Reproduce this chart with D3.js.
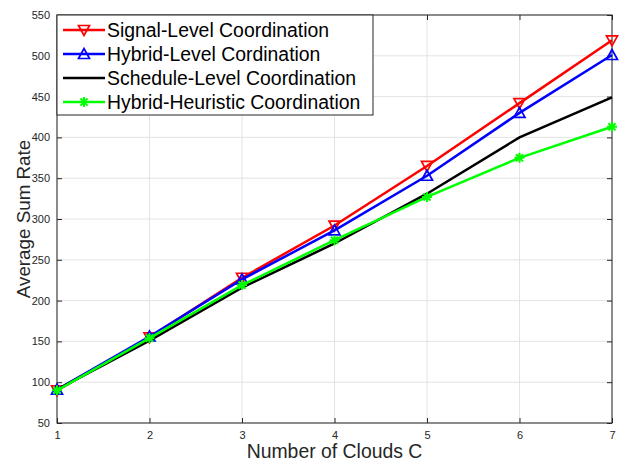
<!DOCTYPE html>
<html>
<head>
<meta charset="utf-8">
<script src="https://d3js.org/d3.v7.min.js"></script>
<style>
  body { margin: 0; background: #fff; }
  svg { display: block; font-family: "Liberation Sans", Arial, Helvetica, sans-serif; }
</style>
</head>
<body>
<svg id="svg"></svg>
<script>
var clouds = [1, 2, 3, 4, 5, 6, 7];
var signalLevel = [90, 155, 228, 292, 365, 442, 519];
var hybridLevel = [91, 156, 226, 286, 353, 430, 501];
var scheduleLevel = [91, 151, 216, 270, 331, 400, 449];
var hybridHeuristic = [90, 154, 219, 274, 327, 375, 413];
var yTicks = [50, 100, 150, 200, 250, 300, 350, 400, 450, 500, 550];
var seriesNames = ['Signal-Level Coordination', 'Hybrid-Level Cordination',
  'Schedule-Level Coordination', 'Hybrid-Heuristic Coordination'];

var series = [
  { name: seriesNames[0], values: signalLevel, color: '#ff0000', marker: 'down' },
  { name: seriesNames[1], values: hybridLevel, color: '#0000ff', marker: 'up' },
  { name: seriesNames[2], values: scheduleLevel, color: '#000000', marker: 'none' },
  { name: seriesNames[3], values: hybridHeuristic, color: '#00ff00', marker: 'star' }
];

/* 基本參數 */
var W = 629, H = 462;
var margin = { top: 15, right: 17, bottom: 39, left: 57 };
var width = W - margin.left - margin.right,
  height = H - margin.top - margin.bottom;

var axisColor = '#262626';

//比例尺
var scaleX = d3.scaleLinear().domain([1, 7]).range([0, width]);
var scaleY = d3.scaleLinear().domain([50, 550]).range([height, 0]);

var s = d3.select('#svg').attr('width', W).attr('height', H);
var g = s.append('g').attr('transform', 'translate(' + margin.left + ',' + margin.top + ')');

//網格
g.append('g').selectAll('line').data(clouds).enter().append('line')
  .attr('x1', function (d) { return scaleX(d); })
  .attr('x2', function (d) { return scaleX(d); })
  .attr('y1', 0).attr('y2', height)
  .attr('stroke', '#e3e3e3').attr('stroke-width', 1);
g.append('g').selectAll('line').data(yTicks).enter().append('line')
  .attr('y1', function (d) { return scaleY(d); })
  .attr('y2', function (d) { return scaleY(d); })
  .attr('x1', 0).attr('x2', width)
  .attr('stroke', '#e3e3e3').attr('stroke-width', 1);

//座標軸 (ticks inward, MATLAB style)
function styleAxis(sel) {
  sel.select('.domain').remove();
  sel.selectAll('.tick line').attr('stroke', axisColor);
  sel.selectAll('.tick text').attr('fill', axisColor).style('font-size', '11px');
}
g.append('g').attr('transform', 'translate(0,' + height + ')')
  .call(d3.axisBottom(scaleX).tickValues(clouds).tickFormat(d3.format('d')).tickSizeInner(-5).tickPadding(8))
  .call(styleAxis);
g.append('g')
  .call(d3.axisTop(scaleX).tickValues(clouds).tickSizeInner(-5).tickFormat(''))
  .call(styleAxis);
g.append('g')
  .call(d3.axisLeft(scaleY).tickValues(yTicks).tickSizeInner(-5).tickPadding(7))
  .call(styleAxis);
g.append('g').attr('transform', 'translate(' + width + ',0)')
  .call(d3.axisRight(scaleY).tickValues(yTicks).tickSizeInner(-5).tickFormat(''))
  .call(styleAxis);

g.append('rect')
  .attr('x', 0).attr('y', 0).attr('width', width).attr('height', height)
  .attr('fill', 'none').attr('stroke', axisColor).attr('stroke-width', 1);

//marker
function drawMarker(sel, type, color) {
  if (type === 'down') {
    sel.append('path').attr('d', 'M-5.5,-4.5L5.5,-4.5L0,5.5Z')
      .attr('fill', 'none').attr('stroke', color).attr('stroke-width', 1.7);
  } else if (type === 'up') {
    sel.append('path').attr('d', 'M-5.5,4.5L5.5,4.5L0,-5.5Z')
      .attr('fill', 'none').attr('stroke', color).attr('stroke-width', 1.7);
  } else if (type === 'star') {
    sel.append('path').attr('d', 'M-5,0L5,0M0,-5L0,5M-3.6,-3.6L3.6,3.6M-3.6,3.6L3.6,-3.6')
      .attr('fill', 'none').attr('stroke', color).attr('stroke-width', 2);
  }
}

//折線
var line = d3.line()
  .x(function (d, i) { return scaleX(clouds[i]); })
  .y(function (d) { return scaleY(d); });

series.forEach(function (sr) {
  g.append('path').datum(sr.values)
    .attr('d', line)
    .attr('fill', 'none').attr('stroke', sr.color).attr('stroke-width', 2.5);
  sr.values.forEach(function (v, i) {
    var m = g.append('g').attr('transform', 'translate(' + scaleX(clouds[i]) + ',' + scaleY(v) + ')');
    drawMarker(m, sr.marker, sr.color);
  });
});

//圖例
var lg = g.append('g');
lg.append('rect')
  .attr('x', 0).attr('y', 0).attr('width', 316).attr('height', 100)
  .attr('fill', '#fff').attr('stroke', axisColor).attr('stroke-width', 1);
series.forEach(function (sr, i) {
  var y = 15 + i * 24;
  lg.append('line').attr('x1', 6).attr('x2', 48).attr('y1', y).attr('y2', y)
    .attr('stroke', sr.color).attr('stroke-width', 2.5);
  drawMarker(lg.append('g').attr('transform', 'translate(27,' + y + ')'), sr.marker, sr.color);
  lg.append('text').attr('x', 50).attr('y', y).attr('dy', '0.36em')
    .style('font-size', '19.4px').attr('fill', '#000').text(sr.name);
});

//軸標題
s.append('text')
  .attr('x', margin.left + width / 2).attr('y', 458)
  .attr('text-anchor', 'middle').style('font-size', '19.4px').attr('fill', axisColor)
  .text('Number of Clouds C');
s.append('text')
  .attr('transform', 'translate(30,' + (margin.top + height / 2) + ') rotate(-90)')
  .attr('text-anchor', 'middle').style('font-size', '18.8px').attr('fill', axisColor)
  .text('Average Sum Rate');
</script>
</body>
</html>
